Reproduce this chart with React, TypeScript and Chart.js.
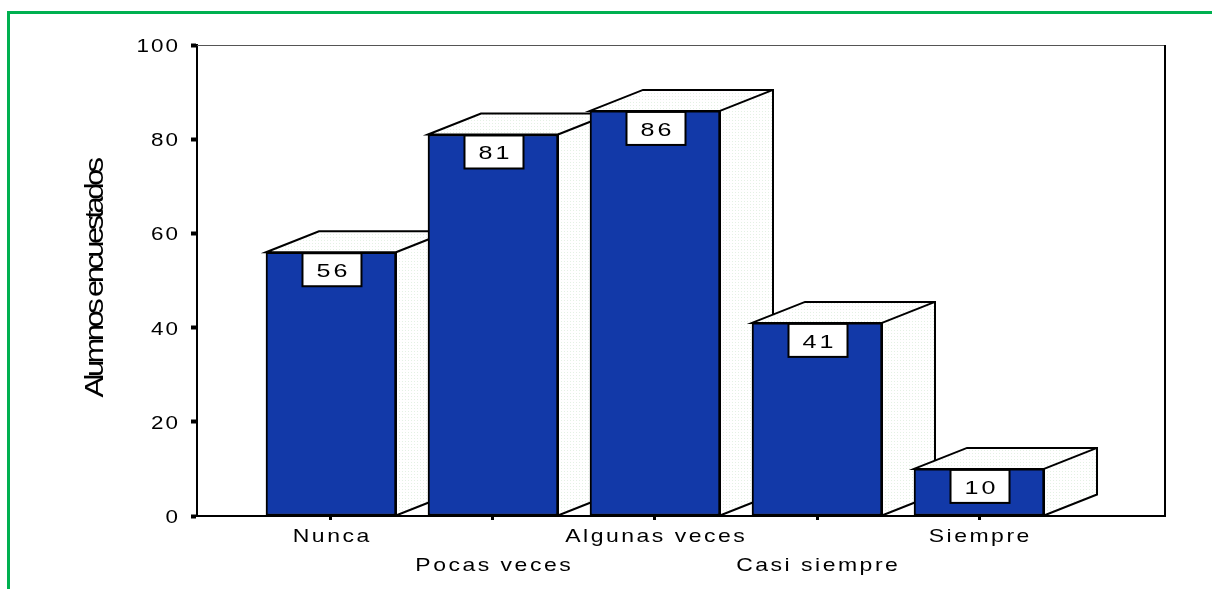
import React, { useEffect, useRef } from 'react';
import { Chart, registerables } from 'chart.js';

Chart.register(...registerables);

const categories = ['Nunca', 'Pocas veces', 'Algunas veces', 'Casi siempre', 'Siempre'];
const values = [56, 81, 86, 41, 10];
const yTicks = [0, 20, 40, 60, 80, 100];
const yTitle = 'Alumnos encuestados';

const BAR_COLOR = '#1239a8';
const DEPTH_X = 53;
const DEPTH_Y = 21;
const TEXT_FONT = '"Liberation Sans", Arial, sans-serif';

function makePattern(ctx: CanvasRenderingContext2D) {
  const c = document.createElement('canvas');
  c.width = 3;
  c.height = 3;
  const g = c.getContext('2d')!;
  g.fillStyle = '#ffffff';
  g.fillRect(0, 0, 3, 3);
  g.fillStyle = '#e4f1e4';
  g.fillRect(0, 0, 1, 1);
  return ctx.createPattern(c, 'repeat') || '#f6fbf6';
}

// draws text stretched horizontally (like the original export) with letter spacing
function drawStretched(
  ctx: CanvasRenderingContext2D,
  text: string,
  x: number,
  y: number,
  align: 'left' | 'center' | 'right',
  size: number,
  sx: number,
  spacing: number,
) {
  ctx.save();
  ctx.translate(x, y);
  ctx.scale(sx, 1);
  ctx.font = `${size}px ${TEXT_FONT}`;
  const sp = spacing / sx;
  (ctx as any).letterSpacing = `${sp}px`;
  ctx.textAlign = 'left';
  ctx.textBaseline = 'alphabetic';
  ctx.fillStyle = '#000';
  const w = ctx.measureText(text).width - sp;
  let dx = 0;
  if (align === 'center') dx = -w / 2;
  else if (align === 'right') dx = -w;
  ctx.fillText(text, dx, 0);
  ctx.restore();
}

const box3dPlugin = {
  id: 'box3d',
  beforeDatasetsDraw(chart: any) {
    const { ctx, chartArea } = chart;
    ctx.save();
    ctx.strokeStyle = '#555';
    ctx.lineWidth = 1;
    ctx.beginPath();
    ctx.moveTo(chartArea.left, chartArea.top + 0.5);
    ctx.lineTo(chartArea.right, chartArea.top + 0.5);
    ctx.stroke();
    ctx.strokeStyle = '#000';
    ctx.lineWidth = 2;
    ctx.beginPath();
    ctx.moveTo(chartArea.right, chartArea.top);
    ctx.lineTo(chartArea.right, chartArea.bottom);
    ctx.stroke();

    const pattern = makePattern(ctx);
    const meta = chart.getDatasetMeta(0);
    meta.data.forEach((bar: any) => {
      const { x, y, base, width } = bar.getProps(['x', 'y', 'base', 'width'], true);
      const L = x - width / 2;
      const R = x + width / 2;
      ctx.fillStyle = pattern;
      ctx.strokeStyle = '#000';
      ctx.lineWidth = 2;
      ctx.lineJoin = 'miter';
      ctx.beginPath();
      ctx.moveTo(L, y);
      ctx.lineTo(L + DEPTH_X, y - DEPTH_Y);
      ctx.lineTo(R + DEPTH_X, y - DEPTH_Y);
      ctx.lineTo(R + DEPTH_X, base - DEPTH_Y);
      ctx.lineTo(R, base);
      ctx.lineTo(R, y);
      ctx.closePath();
      ctx.fill();
      ctx.stroke();
      ctx.beginPath();
      ctx.moveTo(R, y);
      ctx.lineTo(R + DEPTH_X, y - DEPTH_Y);
      ctx.stroke();
    });
    ctx.restore();
  },
  afterDatasetsDraw(chart: any) {
    const { ctx } = chart;
    const meta = chart.getDatasetMeta(0);

    // value labels
    ctx.save();
    meta.data.forEach((bar: any, i: number) => {
      const { x, y } = bar.getProps(['x', 'y'], true);
      const w = 59;
      const h = 33;
      ctx.fillStyle = '#fff';
      ctx.strokeStyle = '#000';
      ctx.lineWidth = 2;
      ctx.fillRect(x - w / 2 + 1, y + 1, w, h);
      ctx.strokeRect(x - w / 2 + 1, y + 1, w, h);
      drawStretched(ctx, String(values[i]), x + 1, y + 25, 'center', 19, 1.32, 3);
    });
    ctx.restore();

    // x tick labels (alternating rows)
    const xs = chart.scales.x;
    categories.forEach((c, i) => {
      const px = xs.getPixelForValue(i);
      const base = i % 2 ? 571 : 542;
      drawStretched(ctx, c, px, base, 'center', 17.7, 1.3, 2.5);
    });

    // y tick labels
    const ys = chart.scales.y;
    yTicks.forEach((v) => {
      const py = ys.getPixelForValue(v);
      drawStretched(ctx, String(v), 178, py + 7, 'right', 17.7, 1.27, 2);
    });

    // y-axis title
    ctx.save();
    ctx.translate(96, 279);
    ctx.rotate(-Math.PI / 2);
    ctx.font = `26px ${TEXT_FONT}`;
    (ctx as any).letterSpacing = '-3px';
    const tw = ctx.measureText(yTitle).width;
    ctx.scale(237 / tw, 1);
    ctx.fillStyle = '#000';
    ctx.textAlign = 'center';
    ctx.textBaseline = 'middle';
    ctx.fillText(yTitle, 0, 0);
    ctx.restore();
  },
};

export default function App() {
  const ref = useRef<HTMLCanvasElement>(null);
  useEffect(() => {
    const canvas = ref.current!;
    const chart = new Chart(canvas, {
      type: 'bar',
      data: {
        datasets: [
          {
            data: values.map((v, i) => ({ x: i, y: v })),
            backgroundColor: BAR_COLOR,
            borderColor: '#000',
            borderWidth: 2,
            borderSkipped: false,
            barThickness: 130,
          },
        ],
      },
      options: {
        animation: false,
        responsive: false,
        devicePixelRatio: 1,
        layout: { padding: { left: 0, top: 45, right: 47, bottom: 0 } },
        plugins: { legend: { display: false }, tooltip: { enabled: false } },
        scales: {
          x: {
            type: 'linear',
            offset: false,
            bounds: 'data',
            min: -0.827,
            max: 5.148,
            afterBuildTicks: (s: any) => {
              s.ticks = categories.map((_, i) => ({ value: i }));
            },
            afterFit: (s: any) => {
              s.height = 73;
            },
            ticks: { display: false },
            grid: {
              offset: false,
              drawOnChartArea: false,
              drawTicks: true,
              tickLength: 4,
              tickWidth: 3,
              tickColor: '#000',
            },
            border: { display: true, color: '#000', width: 2 },
          },
          y: {
            min: 0,
            max: 100,
            afterBuildTicks: (s: any) => {
              s.ticks = yTicks.map((v) => ({ value: v }));
            },
            afterFit: (s: any) => {
              s.width = 197;
            },
            ticks: { display: false },
            grid: {
              drawOnChartArea: false,
              drawTicks: true,
              tickLength: 6,
              tickWidth: 4,
              tickColor: '#000',
            },
            border: { display: true, color: '#000', width: 2 },
          },
        },
      } as any,
      plugins: [box3dPlugin],
    });
    return () => chart.destroy();
  }, []);

  return (
    <div style={{ position: 'fixed', left: 0, top: 0, width: 1212, height: 589, background: '#fff' }}>
      <div
        style={{
          position: 'absolute',
          left: 7,
          top: 11,
          width: 1205,
          height: 578,
          boxSizing: 'border-box',
          borderTop: '3px solid #00b050',
          borderLeft: '3px solid #00b050',
        }}
      />
      <canvas ref={ref} width={1212} height={589} style={{ position: 'absolute', left: 0, top: 0 }} />
    </div>
  );
}
